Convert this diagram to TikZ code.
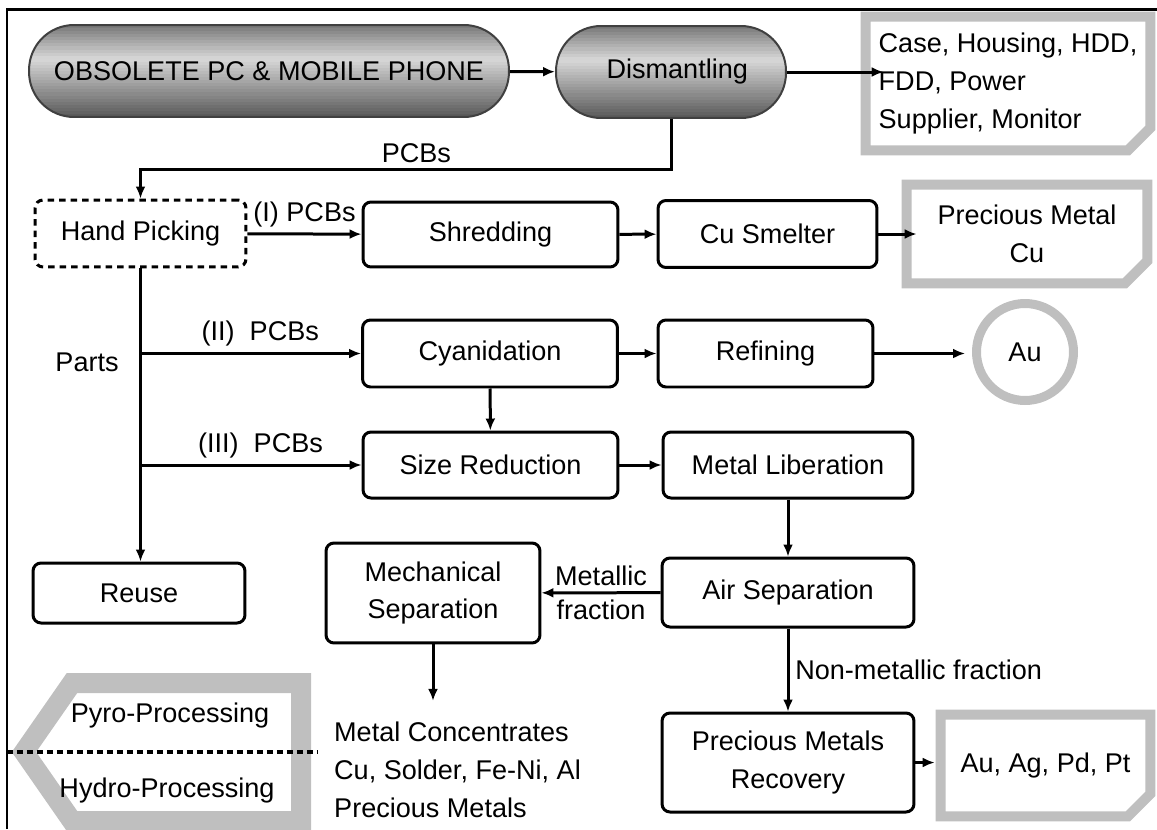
\documentclass[tikz,border=0pt]{standalone}
\usepackage{fontspec}
\setmainfont{Liberation Sans}
\usepackage{tikz}
\usetikzlibrary{arrows.meta, positioning, calc}
\definecolor{flowGray}{HTML}{BFBFBF}

\begin{document}
\begin{tikzpicture}[
  x=0.02cm, y=-0.02cm,
  font=\fontsize{15.4pt}{21.6pt}\selectfont,
  pill/.style={draw=black!75, line width=0.04cm, rounded corners=0.9cm,
               minimum height=1.84cm, align=center,
               path picture={
                 \foreach \i in {0,...,29} {
                   \pgfmathsetmacro\sya{\i/30}
                   \pgfmathsetmacro\syb{(\i+1.3)/30}
                   \pgfmathsetmacro\sg{\sya<0.35 ? 52-105*\sya : 15+52*(\sya-0.35)/0.65}
                   \fill[black!\sg, sharp corners] ($(path picture bounding box.north west)!\sya!(path picture bounding box.south west)$)
                     rectangle ($(path picture bounding box.north east)!\syb!(path picture bounding box.south east)$);
                 }}},
  proc/.style={draw, line width=0.06cm, rounded corners=0.16cm,
               minimum height=1.34cm, align=center},
  pick/.style={proc, dash pattern=on 0.13cm off 0.1cm},
  result/.style={align=left},
  ring/.style={circle, draw=flowGray, line width=0.18cm, minimum size=1.94cm, inner sep=0pt},
  grayframe/.style={draw=flowGray, line width=0.2cm, line join=miter},
  a/.style={-{Latex[length=0.24cm, width=0.2cm]}, line width=0.06cm}
]
\useasboundingbox (0,0) rectangle (1157,829);

\draw[line width=0.06cm] (7,829) -- (7,9) -- (1157,9);

\node[pill, minimum width=9.6cm] (obs) at (269,71) {OBSOLETE PC \& MOBILE PHONE};
\node[pill, minimum width=4.6cm] (dis) at (671,72) {\hspace*{0.25cm}Dismantling};
\node[result, minimum width=5.68cm, minimum height=2.66cm] (case) at (1008,83.5) {Case, Housing, HDD,\\FDD, Power\\Supplier, Monitor};

\node[pick, minimum width=4.22cm] (hand) at (140.5,233.5) {Hand Picking};
\node[proc, minimum width=5.1cm, minimum height=1.3cm] (shred) at (490.5,234.5) {Shredding};
\node[proc, minimum width=4.38cm] (smelt) at (767.5,234) {Cu Smelter};
\node[result, align=center, minimum width=4.8cm, minimum height=1.96cm] (pm) at (1027,234) {Precious Metal\\Cu};

\node[proc, minimum width=5.1cm] (cyan) at (490,353.5) {Cyanidation};
\node[proc, minimum width=4.3cm] (refine) at (765.5,353.5) {Refining};
\node[ring] (au) at (1025,352) {Au};

\node[proc, minimum width=5.1cm, minimum height=1.32cm] (size) at (490.5,465) {Size Reduction};
\node[proc, minimum width=5cm, minimum height=1.32cm] (lib) at (788,465) {Metal Liberation};

\node[proc, minimum width=4.24cm, minimum height=1.2cm] (reuse) at (139,593) {Reuse};
\node[proc, minimum width=4.28cm, minimum height=2cm] (mech) at (433,593) {Mechanical\\Separation};
\node[proc, minimum width=5.04cm, minimum height=1.38cm] (air) at (788,592.5) {Air Separation};

\node[anchor=west, align=left] (conc) at (328,770) {Metal Concentrates\\Cu, Solder, Fe-Ni, Al\\Precious Metals};
\node[proc, minimum width=5.04cm, minimum height=1.98cm] (pmr) at (788,762.5) {Precious Metals\\Recovery};
\node[result, minimum width=4.18cm, minimum height=2.02cm] (aa) at (1045.5,765.5) {Au, Ag, Pd, Pt};

% gray output frames with folded corner
\foreach \n in {case, pm, aa}
  \draw[grayframe] (\n.north west) -- (\n.north east) -- ([yshift=0.45cm]\n.south east)
    -- ([xshift=-0.45cm]\n.south east) -- (\n.south west) -- cycle;

% legend
\draw[grayframe, line width=0.4cm] (301,683) -- (72,683) -- (24,752) -- (72,821) -- (301,821) -- cycle;
\node (pyro) at (170,715) {Pyro-Processing};
\node (hydro) at (167,790) {Hydro-Processing};
\draw[line width=0.08cm, dash pattern=on 0.12cm off 0.08cm] (7,752) -- (318,752);

\draw[a] (obs) -- (dis);
\draw[a] (dis) -- ([xshift=0.36cm]dis -| case.west);
\draw[a] (dis.south) -- ++(0,51) -| (hand) node[pos=0.24, above] {PCBs};

\draw[a] (hand) -- (shred) node[midway, above] {(I) PCBs};
\draw[a] (shred) -- (smelt);
\draw[a] (smelt) -- ([xshift=0.2cm]smelt -| pm.west);

\draw[a] (hand) -- (hand |- reuse.north) node[pos=0.32, left=0.29cm] {Parts};
\draw[a] (hand |- cyan) -- (cyan) node[midway, above, xshift=0.19cm] {(II)\ \ PCBs};
\draw[a] (hand |- size) -- (size) node[midway, above, xshift=0.19cm] {(III)\ \ PCBs};

\draw[a] (cyan) -- (refine);
\draw[a] (refine) -- ([xshift=-0.14cm]refine -| au.west);
\draw[a] (cyan) -- (size);
\draw[a] (size) -- (lib);
\draw[a] (lib) -- (air);

\draw[a] (air) -- (mech) node[midway, above] {Metallic} node[midway, below] {fraction};
\draw[a] (mech.south) -- ([yshift=0.3cm]mech.south |- conc.north);
\draw[a] (air) -- (pmr) node[midway, right] {Non-metallic fraction};
\draw[a] (pmr) -- ([xshift=-0.12cm]pmr -| aa.west);

\end{tikzpicture}
\end{document}
